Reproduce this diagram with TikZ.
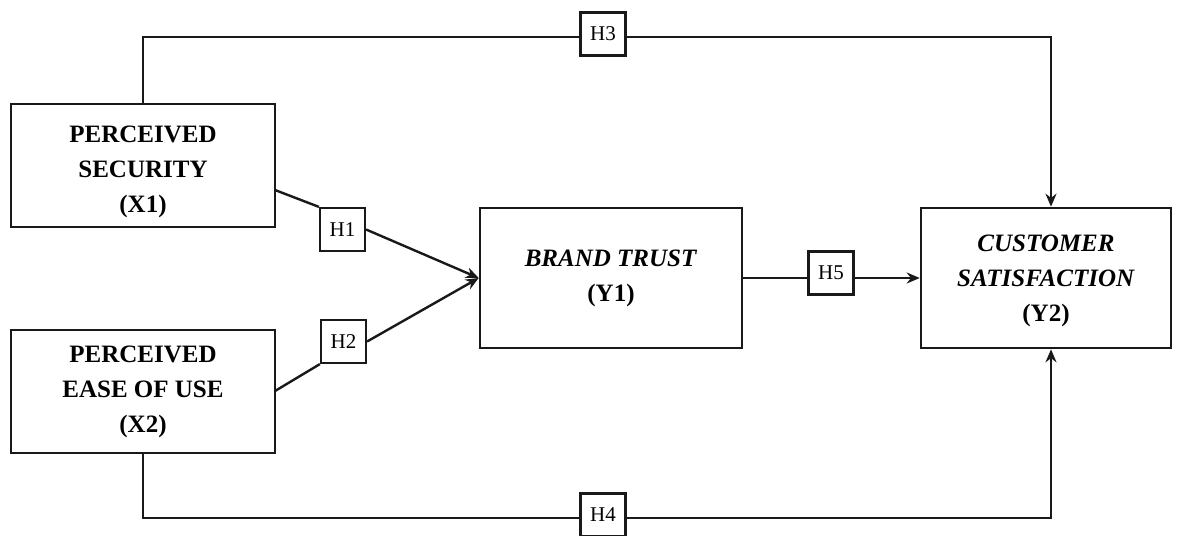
\documentclass[tikz,border=0pt]{standalone}
\usepackage{fontspec}
\setmainfont{Liberation Serif}
\usetikzlibrary{arrows.meta}
\begin{document}
\begin{tikzpicture}[x=1pt,y=-1pt,
  varbox/.style={draw=black!90,line width=2.6pt,fill=white,minimum width=264pt,minimum height=123pt,inner sep=0pt,align=center,
    font=\fontsize{25}{35}\selectfont\bfseries},
  hbox/.style={draw=black!90,line width=2.2pt,fill=white,minimum width=45pt,minimum height=43pt,inner sep=0pt,
    font=\fontsize{21}{24}\selectfont},
  conn/.style={draw=black!90,line width=2.4pt},
  arr/.style={conn,-{Stealth[length=13pt,width=11pt]}}]
\useasboundingbox (0,0) rectangle (1182,535);
% boxes
\node[varbox] (X1) at (143,165.5) {\rule{0pt}{29pt}PERCEIVED\\SECURITY\\(X1)};
\node[varbox] (X2) at (143,391.5) {PERCEIVED\\EASE OF USE\\(X2)};
\node[varbox,minimum width=262pt,minimum height=140pt] (Y1) at (611,278) {\textit{BRAND TRUST}\\(Y1)};
\node[varbox,minimum width=250pt,minimum height=140pt] (Y2) at (1046,278) {\rule{0pt}{22pt}\textit{CUSTOMER}\\\textit{SATISFACTION}\\(Y2)};
% helper coordinates
\coordinate (x1out) at (275,190);
\coordinate (x2out) at (275,391);
\coordinate (topL) at (143,37);
\coordinate (topR) at (1051,37);
\coordinate (botL) at (143,518);
\coordinate (botR) at (1051,518);
% hypothesis boxes
\node[hbox] (H1) at (342.5,229.5) {H1};
\node[hbox] (H2) at (343.5,341.5) {H2};
\node[hbox] (H3) at (603,34) {H3};
\node[hbox] (H4) at (603,515) {H4};
\node[hbox] (H5) at (831,273) {H5};
% connectors
\draw[conn] (x1out) -- (H1.north west);
\draw[arr] (H1.east) -- (Y1.west);
\draw[conn] (x2out) -- (H2.south west);
\draw[arr] (H2.east) -- (Y1.west);
\draw[conn] (X1.north -| topL) -- (topL) -- (H3.west |- topL);
\draw[arr] (H3.east |- topR) -- (topR) -- (topR |- Y2.north);
\draw[conn] (X2.south -| botL) -- (botL) -- (H4.west |- botL);
\draw[arr] (H4.east |- botR) -- (botR) -- (botR |- Y2.south);
\draw[conn] (Y1.east) -- (H5.west |- Y1.east);
\draw[arr] (H5.east |- Y1.east) -- (Y2.west);
\end{tikzpicture}
\end{document}
